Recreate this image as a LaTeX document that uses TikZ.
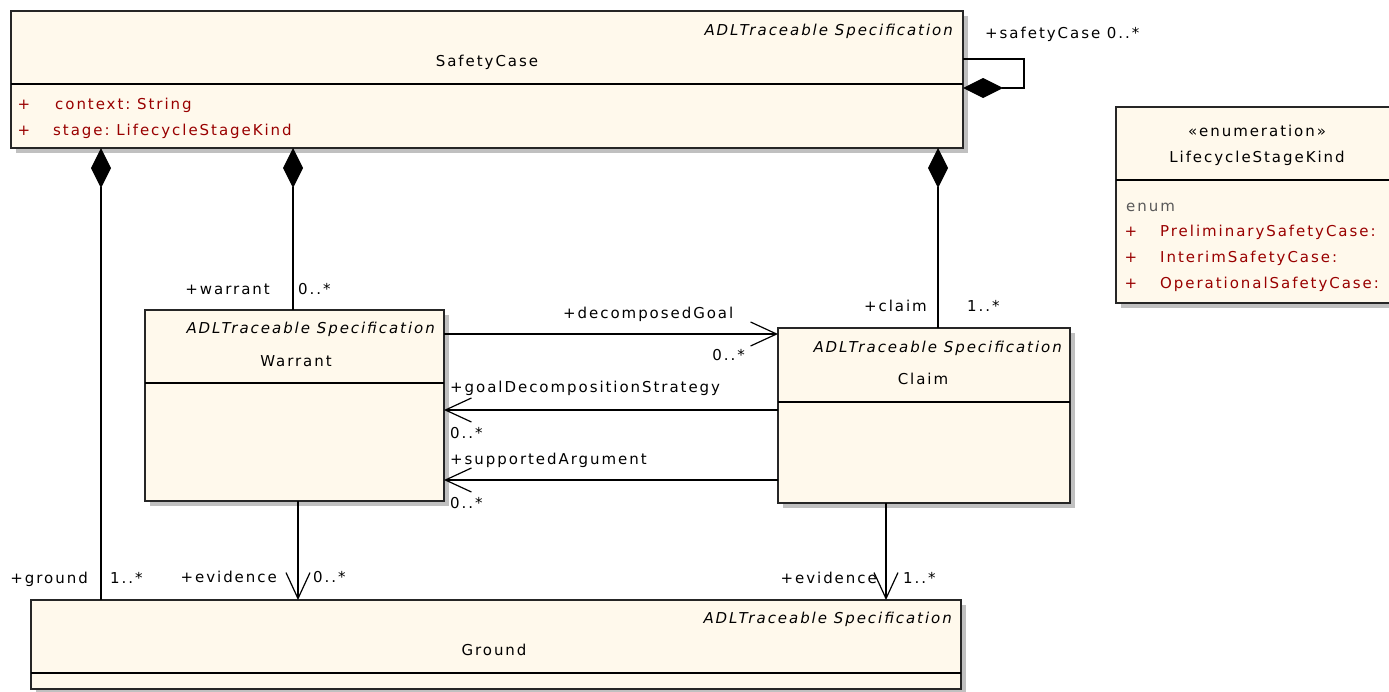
\documentclass[tikz,border=0pt]{standalone}
\usepackage{fontspec}
\setmainfont{DejaVu Sans}[LetterSpace=13]
\usetikzlibrary{arrows.meta,shadows}

\definecolor{classfill}{RGB}{255,249,236}
\definecolor{attrred}{RGB}{153,0,0}
\definecolor{shadowgray}{RGB}{192,192,192}
\definecolor{enumgray}{RGB}{90,90,90}

\tikzset{
  umlclass/.style={draw=black!85,line width=1.3,fill=classfill,rectangle,inner sep=0,outer sep=0,anchor=north west,
    drop shadow={shadow xshift=5pt,shadow yshift=-5pt,fill=shadowgray,opacity=1}},
  txt/.style={inner sep=0,yshift=-1.5pt,text height=11pt,text depth=3pt,font=\fontsize{15}{17}\selectfont},
  stereo/.style={txt,font=\fontsize{15}{17}\selectfont\itshape,anchor=east},
  attr/.style={txt,text=attrred,anchor=west},
  comp/.style={line width=1.2,{Diamond[length=40pt,width=20pt]}-},
  nav/.style={line width=1.2,-{Straight Barb[length=26pt,width=24pt]}},
}

\begin{document}
\begin{tikzpicture}[x=1pt,y=-1pt]
\useasboundingbox (0,0) rectangle (1389,691);

% classes
\node[umlclass,minimum width=952,minimum height=137] (sc) at (11,11) {};
\node[umlclass,minimum width=299,minimum height=191] (warrant) at (145,310) {};
\node[umlclass,minimum width=292,minimum height=175] (claim) at (778,328) {};
\node[umlclass,minimum width=930,minimum height=89] (ground) at (31,600) {};
\node[umlclass,minimum width=300,minimum height=196] (enumkind) at (1116,107) {};

\draw[line width=1.2] (sc.west |- 0,84) -- (sc.east |- 0,84);
\draw[line width=1.2] (warrant.west |- 0,383) -- (warrant.east |- 0,383);
\draw[line width=1.2] (claim.west |- 0,402) -- (claim.east |- 0,402);
\draw[line width=1.2] (ground.west |- 0,673) -- (ground.east |- 0,673);
\draw[line width=1.2] (enumkind.west |- 0,180) -- (enumkind.east |- 0,180);

% class texts
\node[stereo] (scster) at (953,30) {ADLTraceable Specification};
\node[txt] (scname) at (487,61) {SafetyCase};
\node[txt,text=attrred] (scplusa) at (24,104) {+};
\node[attr] (sccontext) at (55,104) {context:\ String};
\node[txt,text=attrred] (scplusb) at (24,130) {+};
\node[attr] (scstage) at (53,130) {stage:\ LifecycleStageKind};

\node[stereo] (warster) at (435,328) {ADLTraceable Specification};
\node[txt] (warname) at (296,361) {Warrant};

\node[stereo] (clster) at (1062,347) {ADLTraceable Specification};
\node[txt] (clname) at (923,379) {Claim};

\node[stereo] (grster) at (952,618) {ADLTraceable Specification};
\node[txt] (grname) at (494,650) {Ground};

\node[txt] (enster) at (1257,131) {«enumeration»};
\node[txt] (enname) at (1257,157) {LifecycleStageKind};
\node[txt,text=enumgray,anchor=west] (enlabel) at (1126,206) {enum};
\node[txt,text=attrred] (enplusa) at (1131,231) {+};
\node[attr] (enprelim) at (1160,231) {PreliminarySafetyCase:};
\node[txt,text=attrred] (enplusb) at (1131,257) {+};
\node[attr] (eninterim) at (1160,257) {InterimSafetyCase:};
\node[txt,text=attrred] (enplusc) at (1131,283) {+};
\node[attr] (enoper) at (1160,283) {OperationalSafetyCase:};

% associations
\draw[line width=1.2,-{Diamond[length=40pt,width=20pt]}] (sc.east |- 0,59) -| (1024,88) -- (sc.east |- 0,88);
\draw[comp] (sc.south -| 101,0) -- (ground.north -| 101,0);
\draw[comp] (sc.south -| 293,0) -- (warrant.north -| 293,0);
\draw[comp] (sc.south -| 938,0) -- (claim.north -| 938,0);
\draw[nav] (warrant.east |- 0,334) -- (claim.west |- 0,334);
\draw[nav] (claim.west |- 0,410) -- (warrant.east |- 0,410);
\draw[nav] (claim.west |- 0,480) -- (warrant.east |- 0,480);
\draw[nav] (warrant.south -| 298,0) -- (ground.north -| 298,0);
\draw[nav] (claim.south -| 886,0) -- (ground.north -| 886,0);

% role names and multiplicities
\node[txt,anchor=west] (rsafety) at (985,33) {+safetyCase 0..*};
\node[txt,anchor=east] (rwarrant) at (270,289) {+warrant};
\node[txt,anchor=west] (mwarrant) at (298,289) {0..*};
\node[txt,anchor=east] (rclaim) at (927,306) {+claim};
\node[txt,anchor=west] (mclaim) at (967,306) {1..*};
\node[txt,anchor=west] (rgoal) at (563,313) {+decomposedGoal};
\node[txt,anchor=east] (mgoal) at (745,355) {0..*};
\node[txt,anchor=west] (rstrategy) at (450,387) {+goalDecompositionStrategy};
\node[txt,anchor=west] (mstrategy) at (450,433) {0..*};
\node[txt,anchor=west] (rsupport) at (450,459) {+supportedArgument};
\node[txt,anchor=west] (msupport) at (450,503) {0..*};
\node[txt,anchor=east] (rground) at (88,578) {+ground};
\node[txt,anchor=west] (mground) at (110,578) {1..*};
\node[txt,anchor=east] (revwar) at (277,577) {+evidence};
\node[txt,anchor=west] (mevwar) at (313,577) {0..*};
\node[txt,anchor=east] (revclaim) at (877,578) {+evidence};
\node[txt,anchor=west] (mevclaim) at (903,578) {1..*};
\end{tikzpicture}
\end{document}
